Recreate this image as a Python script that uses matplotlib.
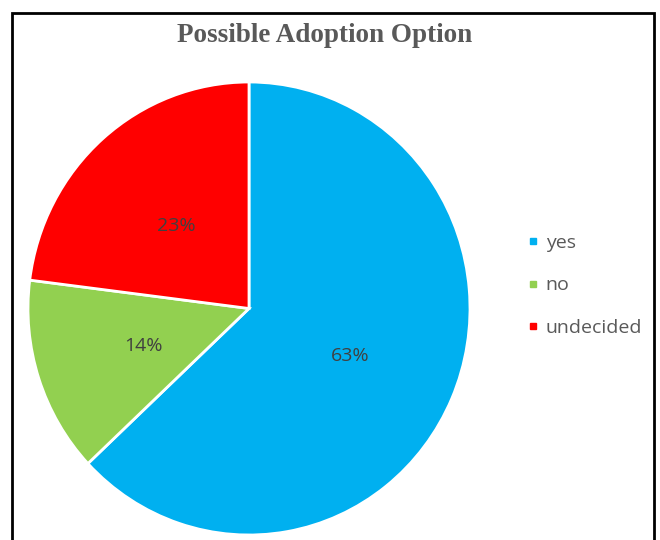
import matplotlib
matplotlib.use("Agg")
import matplotlib.pyplot as plt
import matplotlib.transforms as mtransforms
from matplotlib.patches import Rectangle
from matplotlib.lines import Line2D

categories = ["yes", "no", "undecided"]
shares = [63, 14, 23]
colors = ["#00B0F0", "#92D050", "#FF0000"]
title = "Possible Adoption Option"

W, H = 660, 540
fig = plt.figure(figsize=(W / 100, H / 100), dpi=100)

# pie axes placed in pixel units (slightly taller than wide)
cx, cy, rx, ry = 249, 308.5, 221, 226.5
ax = fig.add_axes([(cx - rx) / W, (H - cy - ry) / H, 2 * rx / W, 2 * ry / H])
wedges, texts = ax.pie(
    shares, colors=colors, startangle=90, counterclock=False,
    labels=[f"{v}%" for v in shares], labeldistance=0.5,
    wedgeprops=dict(edgecolor="white", linewidth=2),
    textprops=dict(color="#404040", fontsize=14, family="Open Sans"),
)
shift = mtransforms.offset_copy(ax.transData, fig=fig, x=0, y=-2.5, units="dots")
for t in texts:
    t.set_ha("center")
    t.set_va("center")
    t.set_transform(shift)
ax.set_xlim(-1, 1)
ax.set_ylim(-1, 1)
ax.set_aspect("auto")
ax.axis("off")

fig.text(325 / W, 1 - 35 / H, title, ha="center", va="center",
         fontsize=19.5, fontweight="bold", family="Liberation Serif",
         color="#595959")

handles = [Line2D([], [], marker="s", linestyle="none", markersize=4.5,
                  markerfacecolor=c, markeredgecolor=c) for c in colors]
fig.legend(handles, categories, loc="center left",
           bbox_to_anchor=(508 / W, 1 - 285.5 / H), frameon=False,
           handlelength=0.8, handletextpad=0.24, labelspacing=1.25,
           prop=dict(family="Open Sans", size=14), labelcolor="#595959")

# outer frame
fig.patches.append(Rectangle((12 / W, -0.1), (654 - 12) / W, 1.1 - 13 / H,
                             transform=fig.transFigure, fill=False,
                             edgecolor="black", linewidth=2, clip_on=False))

fig.savefig("out.png", dpi=100)
